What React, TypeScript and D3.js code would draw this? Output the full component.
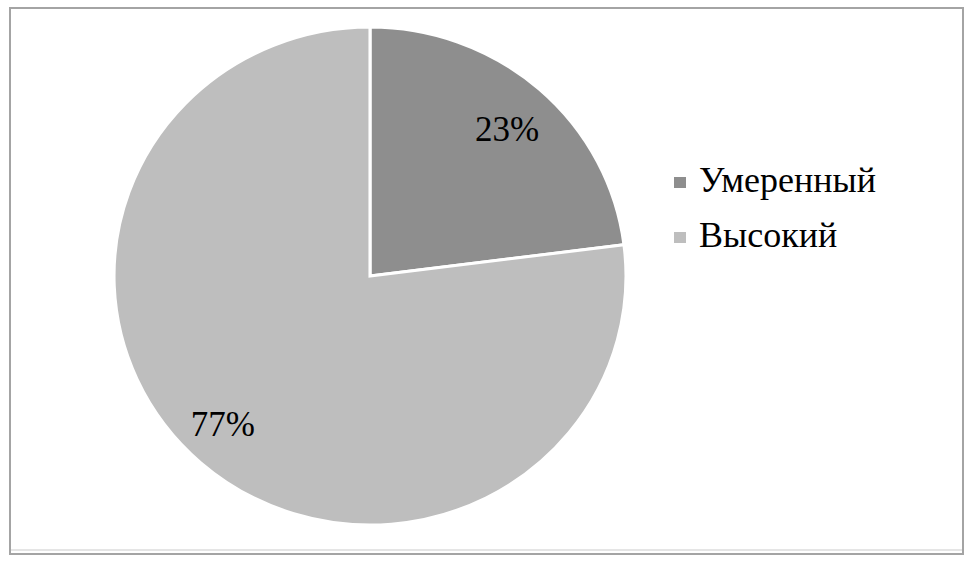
import React from 'react';
import * as d3 from 'd3';

const categories = ['Умеренный', 'Высокий'];
const values = [23, 77];
const colors = ['#8e8e8e', '#bebebe'];

const W = 971;
const H = 562;
const FONT = 'Liberation Serif, Times New Roman, DejaVu Serif, serif';

export default function App() {
  const cx = 370;
  const cy = 276;
  const rx = 256;
  const ry = 249;

  const pie = d3.pie<number>().sort(null).value(d => d);
  const arcs = pie(values);
  const arcGen = d3.arc<d3.PieArcDatum<number>>().innerRadius(0).outerRadius(ry);
  const labelArc = d3.arc<d3.PieArcDatum<number>>().innerRadius(ry * 0.81).outerRadius(ry * 0.81);
  const sx = rx / ry;

  return (
    <svg width={W} height={H} style={{ position: 'absolute', left: 0, top: 0, background: '#fff' }}>
      <rect x={10} y={8} width={953} height={546} fill="#fff" stroke="#a4a4a4" strokeWidth={2} />
      <line x1={11} x2={962} y1={550} y2={550} stroke="#dcdcdc" strokeWidth={1.5} />
      <g transform={`translate(${cx},${cy}) scale(${sx},1)`}>
        {arcs.map((a, i) => (
          <path key={i} d={arcGen(a) || ''} fill={colors[i]} stroke="#fff" strokeWidth={3} strokeLinejoin="miter" />
        ))}
      </g>
      <g transform={`translate(${cx},${cy})`} style={{ fontFamily: FONT }} fontSize={35} fill="#000">
        {arcs.map((a, i) => {
          const [lx, ly] = labelArc.centroid(a);
          return (
            <text key={i} x={lx * sx - (i === 1 ? 10 : 0)} y={ly + (i === 0 ? 4 : -4)} textAnchor="middle" dy="0.35em">{`${values[i]}%`}</text>
          );
        })}
      </g>
      <g style={{ fontFamily: FONT }} fontSize={36} fill="#000">
        {categories.map((c, i) => (
          <g key={c} transform={`translate(674,${177 + i * 55})`}>
            <rect x={0} y={0} width={12} height={11} fill={colors[i]} />
            <text x={25} y={15}>{c}</text>
          </g>
        ))}
      </g>
    </svg>
  );
}
